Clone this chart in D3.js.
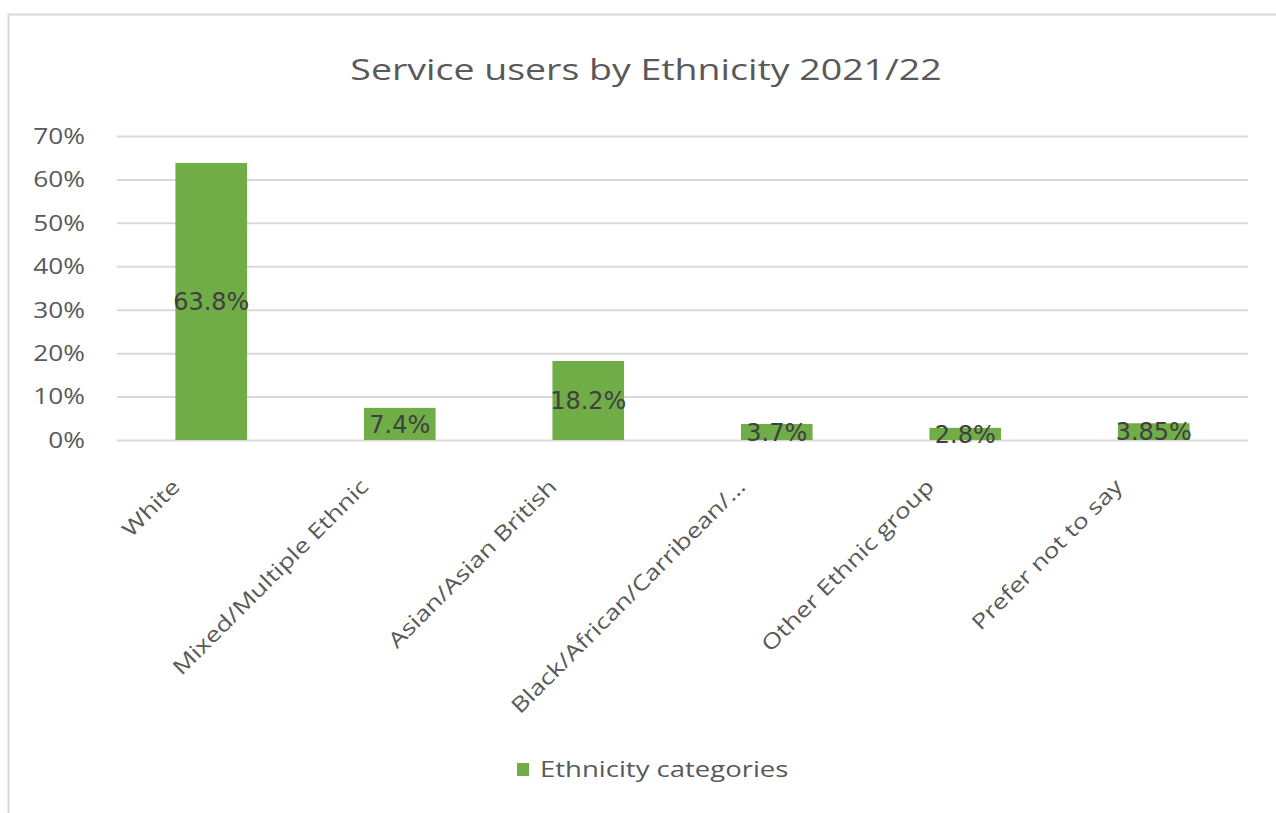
<!DOCTYPE html>
<html>
<head>
<meta charset="utf-8">
<script src="https://cdn.jsdelivr.net/npm/d3@7"></script>
<style>
  html, body { margin: 0; padding: 0; background: #fff; }
  svg { display: block; }
</style>
</head>
<body>
<svg id="chart" width="1276" height="813"></svg>
<script>
// Share of service users by ethnicity, 2021/22
const categories = [
  "White",
  "Mixed/Multiple Ethnic",
  "Asian/Asian British",
  "Black/African/Carribean/…",
  "Other Ethnic group",
  "Prefer not to say"
];
const values = [0.638, 0.074, 0.182, 0.037, 0.028, 0.0385];
const valueLabels = ["63.8%", "7.4%", "18.2%", "3.7%", "2.8%", "3.85%"];
const yTicks = [0, 0.1, 0.2, 0.3, 0.4, 0.5, 0.6, 0.7];
const seriesName = "Ethnicity categories";
const chartTitle = "Service users by Ethnicity 2021/22";

const W = 1276, H = 813;
const green = "#70ad47";
const textGrey = "#595959";
const uiFont = "'Open Sans', sans-serif";
const stretch = 1.25; // wide lettering, scaled along the baseline

const svg = d3.select("#chart");

// chart area frame
svg.append("rect")
  .attr("x", 8.5).attr("y", 14.5)
  .attr("width", W + 20).attr("height", H + 20)
  .attr("fill", "#fff")
  .attr("stroke", "#d9d9d9")
  .attr("stroke-width", 2);

const plot = { left: 117, right: 1248, top: 136, bottom: 440 };

const x = d3.scaleBand()
  .domain(categories)
  .range([plot.left, plot.right])
  .paddingInner(0.62)
  .paddingOuter(0.31);

const y = d3.scaleLinear()
  .domain([0, 0.7])
  .range([plot.bottom, plot.top]);

// title
svg.append("text")
  .attr("transform", `translate(646,80) scale(${stretch},1)`)
  .attr("text-anchor", "middle")
  .attr("font-family", uiFont)
  .attr("font-size", 30)
  .attr("fill", textGrey)
  .text(chartTitle);

// gridlines + y labels
const yAxis = d3.axisLeft(y)
  .tickValues(yTicks)
  .tickSize(-(plot.right - plot.left))
  .tickPadding(0)
  .tickFormat(d3.format(".0%"));

const gy = svg.append("g")
  .attr("transform", `translate(${plot.left},0)`)
  .call(yAxis);
gy.select(".domain").remove();
gy.selectAll(".tick line")
  .attr("stroke", "#d9d9d9")
  .attr("stroke-width", 2);
gy.selectAll(".tick text")
  .attr("x", null)
  .attr("font-family", uiFont)
  .attr("font-size", 21)
  .attr("fill", textGrey)
  .attr("dy", "0.35em")
  .attr("transform", `translate(-32,0) scale(${stretch},1)`);

// bars
svg.append("g")
  .selectAll("rect")
  .data(values)
  .join("rect")
  .attr("x", (d, i) => x(categories[i]))
  .attr("y", d => y(d))
  .attr("width", x.bandwidth())
  .attr("height", d => y(0) - y(d))
  .attr("fill", green);

// value labels centred in each bar
svg.append("g")
  .selectAll("text")
  .data(values)
  .join("text")
  .attr("x", (d, i) => x(categories[i]) + x.bandwidth() / 2)
  .attr("y", d => (y(d) + y(0)) / 2)
  .attr("dy", "0.36em")
  .attr("text-anchor", "middle")
  .attr("font-family", "'DejaVu Sans', sans-serif")
  .attr("font-size", 24)
  .attr("fill", "#404040")
  .text((d, i) => valueLabels[i]);

// category axis labels, rotated
const xAxis = d3.axisBottom(x).tickSize(0).tickPadding(0);
const gx = svg.append("g")
  .attr("transform", `translate(0,${plot.bottom})`)
  .call(xAxis);
gx.select(".domain").remove();
gx.selectAll(".tick text")
  .attr("font-family", uiFont)
  .attr("font-size", 21)
  .attr("fill", textGrey)
  .attr("text-anchor", "end")
  .attr("y", 0)
  .attr("dy", 0)
  .attr("transform", `translate(-30,48) rotate(-45) scale(${stretch},1)`);

// legend
const legend = svg.append("g").attr("transform", "translate(517,763)");
legend.append("rect")
  .attr("width", 12).attr("height", 13)
  .attr("fill", green);
legend.append("text")
  .attr("transform", `translate(23,6.5) scale(${stretch},1)`)
  .attr("dy", "0.36em")
  .attr("font-family", uiFont)
  .attr("font-size", 22)
  .attr("fill", textGrey)
  .text(seriesName);
</script>
</body>
</html>
